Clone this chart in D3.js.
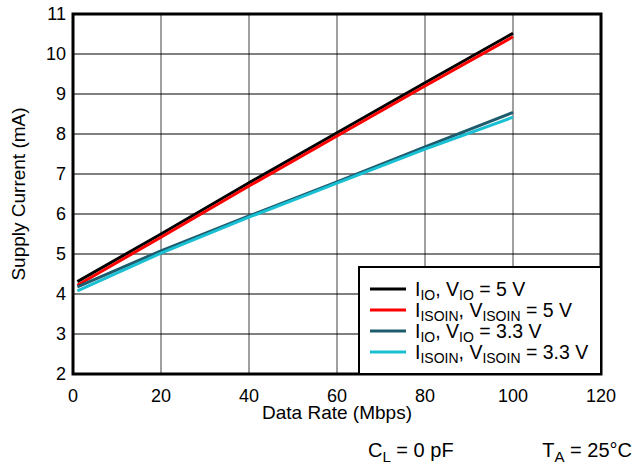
<!DOCTYPE html>
<html>
<head>
<meta charset="utf-8">
<script src="https://cdn.jsdelivr.net/npm/d3@7"></script>
<style>
  body { margin: 0; background: #fff; }
  text { font-family: "Liberation Sans", Arial, sans-serif; fill: #000; }
</style>
</head>
<body>
<svg id="chart" width="633" height="465"></svg>
<script>
// data rate (Mbps) and supply current (mA)
var rates = [1, 20, 40, 60, 80, 100];
var io5 = [4.31, 5.50, 6.78, 8.03, 9.28, 10.52];
var isoin5 = [4.22, 5.42, 6.70, 7.95, 9.20, 10.43];
var io33 = [4.18, 5.08, 5.95, 6.80, 7.68, 8.54];
var isoin33 = [4.08, 5.02, 5.92, 6.77, 7.62, 8.42];

var xTicks = [0, 20, 40, 60, 80, 100, 120];
var yTicks = [2, 3, 4, 5, 6, 7, 8, 9, 10, 11];

var series = [
  { name: "io5", values: io5, color: "#000000", sub: "IO", tail: " = 5 V" },
  { name: "isoin5", values: isoin5, color: "#ff0000", sub: "ISOIN", tail: " = 5 V" },
  { name: "io33", values: io33, color: "#1d5b6d", sub: "IO", tail: " = 3.3 V" },
  { name: "isoin33", values: isoin33, color: "#19bfd2", sub: "ISOIN", tail: " = 3.3 V" }
];

var svg = d3.select("#chart");
var m = { left: 73, right: 601, top: 14, bottom: 374 };

var x = d3.scaleLinear().domain([0, 120]).range([m.left, m.right]);
var y = d3.scaleLinear().domain([2, 11]).range([m.bottom, m.top]);

// grid
svg.append("g").selectAll("line").data(xTicks.slice(1, -1)).enter().append("line")
  .attr("x1", d => x(d)).attr("x2", d => x(d))
  .attr("y1", m.top).attr("y2", m.bottom)
  .attr("stroke", "#7f7f7f").attr("stroke-width", 1.5);

svg.append("g").selectAll("line").data(yTicks.slice(1, -1)).enter().append("line")
  .attr("x1", m.left).attr("x2", m.right)
  .attr("y1", d => y(d)).attr("y2", d => y(d))
  .attr("stroke", "#000").attr("stroke-width", 1.2);

// tick labels
svg.append("g").selectAll("text").data(xTicks).enter().append("text")
  .attr("x", d => x(d)).attr("y", m.bottom + 28)
  .attr("text-anchor", "middle").style("font-size", "18px")
  .text(d => d);

svg.append("g").selectAll("text").data(yTicks).enter().append("text")
  .attr("x", m.left - 7).attr("y", d => y(d) + 6)
  .attr("text-anchor", "end").style("font-size", "18px")
  .text(d => d);

// lines
var line = d3.line()
  .x((d, i) => x(rates[i]))
  .y(d => y(d));

svg.append("g").selectAll("path").data(series).enter().append("path")
  .attr("d", d => line(d.values))
  .attr("fill", "none")
  .attr("stroke", d => d.color)
  .attr("stroke-width", 3);

// frame
svg.append("rect")
  .attr("x", m.left).attr("y", m.top)
  .attr("width", m.right - m.left).attr("height", m.bottom - m.top)
  .attr("fill", "none").attr("stroke", "#000").attr("stroke-width", 3);

// legend
var lg = svg.append("g");
lg.append("rect")
  .attr("x", 359).attr("y", 267)
  .attr("width", m.right - 359).attr("height", m.bottom - 267)
  .attr("fill", "#fff").attr("stroke", "#000").attr("stroke-width", 2);

var rows = lg.selectAll("g.row").data(series).enter().append("g")
  .attr("transform", (d, i) => "translate(0," + (289 + i * 21) + ")");

rows.append("line")
  .attr("x1", 370).attr("x2", 406)
  .attr("stroke", d => d.color).attr("stroke-width", 3);

var t = rows.append("text").attr("x", 415).attr("y", 7).style("font-size", "19.5px");
t.append("tspan").text("I");
t.append("tspan").attr("dy", 4).style("font-size", "14px").text(d => d.sub);
t.append("tspan").attr("dy", -4).text(", V");
t.append("tspan").attr("dy", 4).style("font-size", "14px").text(d => d.sub);
t.append("tspan").attr("dy", -4).text(d => d.tail);

// axis titles
svg.append("text")
  .attr("x", (m.left + m.right) / 2).attr("y", 419)
  .attr("text-anchor", "middle").style("font-size", "19px")
  .text("Data Rate (Mbps)");

svg.append("text")
  .attr("transform", "translate(25," + ((m.top + m.bottom) / 2) + ") rotate(-90)")
  .attr("text-anchor", "middle").style("font-size", "19px")
  .text("Supply Current (mA)");

// conditions
var c1 = svg.append("text").attr("x", 368).attr("y", 457).style("font-size", "20px");
c1.append("tspan").text("C");
c1.append("tspan").attr("dy", 5).style("font-size", "15px").text("L");
c1.append("tspan").attr("dy", -5).text(" = 0 pF");

var c2 = svg.append("text").attr("x", 632).attr("y", 457)
  .attr("text-anchor", "end").style("font-size", "20px");
c2.append("tspan").text("T");
c2.append("tspan").attr("dy", 5).style("font-size", "15px").text("A");
c2.append("tspan").attr("dy", -5).text(" = 25°C");
</script>
</body>
</html>
